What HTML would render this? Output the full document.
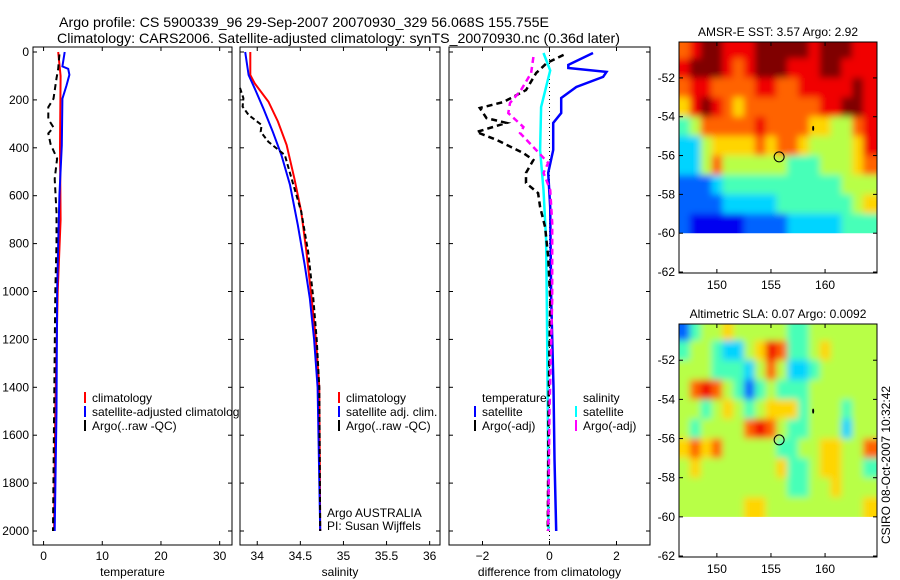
<!DOCTYPE html>
<html><head><meta charset="utf-8"><style>
html,body{margin:0;padding:0;background:#fff;}
svg{display:block;font-family:"Liberation Sans",Arial,sans-serif;}
</style></head><body>
<svg id="chart" width="900" height="580" viewBox="0 0 900 580" xmlns="http://www.w3.org/2000/svg">
<defs><filter id="smooth" x="-5%" y="-5%" width="110%" height="110%"><feGaussianBlur stdDeviation="3.5"/></filter></defs>
<text x="59" y="27" font-size="14" textLength="490" lengthAdjust="spacingAndGlyphs">Argo profile: CS 5900339_96 29-Sep-2007 20070930_329 56.068S 155.755E</text>
<text x="57" y="43" font-size="14" textLength="563" lengthAdjust="spacingAndGlyphs">Climatology: CARS2006. Satellite-adjusted climatology: synTS_20070930.nc (0.36d later)</text>
<g id="plots"></g>
</svg>
<script>
// ---- Panel 1: temperature ----
const climTDepth=[0,100,400,700,1000,1500,2000];
const climTVal=[2.5,2.9,2.8,2.9,2.4,2.0,1.8];
const satTDepth=[0,60,70,95,140,195,390,600,800,1000,1500,2000];
const satTVal=[3.6,3.2,4.2,4.4,3.9,3.2,3.1,2.7,2.5,2.3,2.2,1.9];
const argoTDepth=[10,70,110,195,230,280,315,340,385,445,530,670,800,1000,1500,2000];
const argoTVal=[2.7,2.5,2.2,1.7,0.8,0.8,1.7,0.8,1.2,2.3,1.9,2.2,2.2,2.0,1.8,1.6];
// ---- Panel 2: salinity ----
const climSDepth=[0,96,131,207,290,388,527,666,833,1028,1200,1400,2000];
const climSVal=[33.92,33.92,33.97,34.13,34.24,34.34,34.43,34.51,34.57,34.63,34.68,34.72,34.73];
const satSDepth=[0,96,152,235,333,430,555,722,889,1028,1200,1400,2000];
const satSVal=[33.86,33.9,33.97,34.07,34.18,34.28,34.38,34.47,34.55,34.61,34.66,34.7,34.73];
const argoSDepth=[150,193,228,263,305,333,375,430,555,666,833,1028,1200,1400,2000];
const argoSVal=[33.8,33.84,33.83,33.9,34.05,34.04,34.13,34.32,34.42,34.51,34.59,34.65,34.69,34.72,34.73];
// ---- Panel 3: differences ----
const dTsatDepth=[4,54,67,83,104,146,192,255,296,409,505,647,1035,1400,1700,2000];
const dTsatVal=[1.3,0.56,0.56,1.7,1.6,0.8,0.35,0.35,0.11,0.11,-0.04,0.02,0.05,0.12,0.15,0.2];
const dSsatDepth=[4,77,230,409,576,785,1035,1500,2000];
const dSsatVal=[-0.18,0.02,-0.25,-0.28,-0.18,-0.1,-0.08,-0.05,-0.03];
const dTargoDepth=[12,46,88,159,209,234,276,296,334,367,422,451,505,547,589,647,731,856,1035,1500,2000];
const dTargoVal=[0.42,-0.08,-0.4,-0.7,-1.38,-2.08,-1.88,-1.28,-2.18,-1.58,-0.78,-0.48,-0.7,-0.7,-0.34,-0.28,-0.13,-0.04,0.02,-0.03,-0.05];
const dSargoDepth=[21,88,159,213,255,313,338,397,463,505,576,714,1035,1500,2000];
const dSargoVal=[-0.48,-0.55,-0.85,-1.18,-1.23,-0.78,-0.88,-0.48,-0.04,-0.18,0.02,0.08,0.08,0.0,-0.04];
// ---- Maps (rows lat -50..-60, cols lon 147..164, colour index 0..9) ----
const sstGrid=[
[7,8,9,9,8,8,8,9,9,9,9,9,8,9,9,9,8,8],
[8,9,9,9,8,7,8,9,9,9,8,8,8,9,9,8,8,8],
[7,8,8,7,7,7,7,8,8,7,7,8,8,8,8,8,9,8],
[6,8,9,8,7,6,7,7,7,7,7,7,7,8,8,9,9,8],
[4,5,7,7,7,7,7,8,7,7,7,7,6,6,5,5,7,8],
[3,3,5,6,6,6,6,7,6,7,7,6,5,5,5,5,6,8],
[3,3,5,7,5,5,5,5,5,5,4,4,4,5,5,5,6,7],
[2,2,2,3,4,4,4,4,4,4,4,4,4,4,4,5,5,5],
[2,2,2,2,3,3,3,3,3,4,4,4,4,4,4,4,5,6],
[2,1,1,1,1,1,2,2,2,2,3,3,3,3,3,4,4,4]];
const slaGrid=[
[2,4,5,5,6,5,5,5,5,5,4,4,5,5,5,5,5,5],
[4,5,5,4,3,3,5,6,8,7,4,4,5,6,5,5,5,5],
[5,5,5,4,4,4,3,5,7,5,3,3,4,5,5,5,5,5],
[5,7,8,7,5,4,2,4,5,4,4,4,5,5,5,5,5,5],
[5,5,4,5,6,5,4,5,6,6,6,4,5,5,5,4,5,5],
[5,4,5,5,5,5,7,8,7,5,4,4,5,5,5,3,5,5],
[6,7,6,7,5,5,5,5,5,4,4,5,5,6,6,5,5,7],
[5,6,5,5,5,5,5,5,5,6,4,4,5,6,6,5,5,4],
[5,5,5,5,5,5,5,5,5,5,4,4,5,5,6,5,5,5],
[5,5,5,5,5,5,6,6,5,5,5,5,5,5,5,5,5,6]];
const depthTicks=[0,200,400,600,800,1000,1200,1400,1600,1800,2000];
const tTicks=[0,10,20,30];
const sTicks=[34,34.5,35,35.5,36];
const dTicks=[-2,0,2];
const latTicks=[-52,-54,-56,-58,-60,-62];
const lonTicks=[150,155,160];
const floatLon=155.755, floatLat=-56.068;

const NS="http://www.w3.org/2000/svg";
const root=document.getElementById('plots');
function mk(tag,attrs,parent){const e=document.createElementNS(NS,tag);for(const k in attrs)e.setAttribute(k,attrs[k]);(parent||root).appendChild(e);return e;}
const yD=d=>52+d*0.2395;
const TOP=47,BOT=545;

function panel(name,x0,x1,dom,ticks,xlabel,showY){
  const g=mk('g',{});
  
  
  const r=mk('rect',{x:x0,y:TOP,width:x1-x0,height:BOT-TOP,fill:'#fff',stroke:'#000','stroke-width':1},g);
  
  
  const sx=v=>x0+(v-dom[0])/(dom[1]-dom[0])*(x1-x0);
  ticks.forEach(t=>{
    const X=sx(t);
    mk('line',{x1:X,y1:BOT,x2:X,y2:BOT-4,stroke:'#000'},g);
    mk('line',{x1:X,y1:TOP,x2:X,y2:TOP+4,stroke:'#000'},g);
    const tl=mk('text',{x:X,y:560,'font-size':12,'text-anchor':'middle'},g);
    
    
    tl.textContent=String(t).replace('-','\u2212');
  });
  depthTicks.forEach(d=>{
    const Y=yD(d);
    mk('line',{x1:x0,y1:Y,x2:x0+4,y2:Y,stroke:'#000'},g);
    mk('line',{x1:x1,y1:Y,x2:x1-4,y2:Y,stroke:'#000'},g);
    if(showY){const t=mk('text',{x:x0-4,y:Y+4,'font-size':12,'text-anchor':'end'},g);
      
      
      t.textContent=d;}
  });
  const xl=mk('text',{x:(x0+x1)/2,y:576,'font-size':12,'text-anchor':'middle'},g);
  
  
  xl.textContent=xlabel;
  return {g,sx};
}
function series(p,depths,vals,color,dash,w,name){
  const pts=depths.map((d,i)=>p.sx(vals[i]).toFixed(1)+','+yD(d).toFixed(1)).join(' ');
  const l=mk('polyline',{points:pts,fill:'none',stroke:color,'stroke-width':w,'stroke-dasharray':dash||'none'},p.g);
  
  
}
function legend(g,x,y,color,text,name){
  const b=mk('line',{x1:x,y1:y-6,x2:x,y2:y+5,stroke:color,'stroke-width':2},g);
  
  
  const t=mk('text',{x:x+7,y:y+4,'font-size':12},g);
  
  
  t.textContent=text;
}

const p1=panel('temperature-panel',33,232,[-1.8,32.1],tTicks,'temperature',true);
series(p1,climTDepth,climTVal,'#ff0000',null,2,'climatology-temp-line');
series(p1,satTDepth,satTVal,'#0000ff',null,2,'satellite-temp-line');
series(p1,argoTDepth,argoTVal,'#000',"6,4",2,'argo-temp-line');
legend(p1.g,85,398,'#ff0000','climatology','legend-climatology');
legend(p1.g,85,412,'#0000ff','satellite-adjusted climatology','legend-satellite');
legend(p1.g,85,426,'#000','Argo(..raw -QC)','legend-argo');

const p2=panel('salinity-panel',240,440,[33.8,36.12],sTicks,'salinity',false);
series(p2,climSDepth,climSVal,'#ff0000',null,2,'climatology-sal-line');
series(p2,satSDepth,satSVal,'#0000ff',null,2,'satellite-sal-line');
series(p2,argoSDepth,argoSVal,'#000',"5,3",2,'argo-sal-line');
legend(p2.g,339,398,'#ff0000','climatology','legend-climatology-sal');
legend(p2.g,339,412,'#0000ff','satellite adj. clim.','legend-satellite-sal');
legend(p2.g,339,426,'#000','Argo(..raw -QC)','legend-argo-sal');
[['Argo AUSTRALIA',517,'argo-credit'],['PI: Susan Wijffels',530,'pi-credit']].forEach(a=>{
  const t=mk('text',{x:327,y:a[1],'font-size':12},p2.g);
  
  
  t.textContent=a[0];});

const p3=panel('difference-panel',449,650,[-3,3],dTicks,'difference from climatology',false);
mk('line',{x1:p3.sx(0),y1:TOP,x2:p3.sx(0),y2:BOT,stroke:'#000','stroke-dasharray':'1,3'},p3.g);
series(p3,dTsatDepth,dTsatVal,'#0000ff',null,2.5,'temp-satellite-diff-line');
series(p3,dSsatDepth,dSsatVal,'#00ffff',null,2.5,'sal-satellite-diff-line');
series(p3,dTargoDepth,dTargoVal,'#000',"6,4",2.5,'temp-argo-diff-line');
series(p3,dSargoDepth,dSargoVal,'#ff00ff',"6,4",2.5,'sal-argo-diff-line');
[['temperature',482,'legend-temperature-header'],['salinity',583,'legend-salinity-header']].forEach(a=>{
  const t=mk('text',{x:a[1],y:402,'font-size':12},p3.g);
  
  
  t.textContent=a[0];});
legend(p3.g,475,412,'#0000ff','satellite','legend-temp-satellite');
legend(p3.g,475,426,'#000','Argo(-adj)','legend-temp-argo');
legend(p3.g,576,412,'#00ffff','satellite','legend-sal-satellite');
legend(p3.g,576,426,'#ff00ff','Argo(-adj)','legend-sal-argo');

function jet(idx){
  const t=idx/9;
  const c=v=>Math.round(255*Math.max(0,Math.min(1,v)));
  return 'rgb('+c(1.5-Math.abs(4*t-3))+','+c(1.5-Math.abs(4*t-2))+','+c(1.5-Math.abs(4*t-1))+')';
}
function map(name,grid,top,bot,title){
  const x0=679,x1=877,lat0=-50.15,lat1=-62.05,lon0=146.5,lon1=164.8;
  const g=mk('g',{});
  
  
  const sx=l=>x0+(l-lon0)/(lon1-lon0)*(x1-x0);
  const sy=l=>top+(l-lat0)/(lat1-lat0)*(bot-top);
  const cid=name+'-clip';
  const cp=mk('clipPath',{id:cid},g);
  mk('rect',{x:x0,y:top,width:x1-x0,height:sy(-60)-top},cp);
  const outer=mk('g',{'clip-path':'url(#'+cid+')'},g);
  const cells=mk('g',{filter:'url(#smooth)'},outer);
  const nR=grid.length;
  grid.forEach((row,r)=>row.forEach((v,c)=>{
    const lonA=146.5+c, lonB=lonA+1;
    const latA=r===0?-48:-50-r, latB=r===nR-1?-62:-51-r;
    const X=sx(c===0?144:lonA), W=sx(c===17?168:lonB)-X;
    const Y=sy(latA), H=sy(latB)-Y;
    const cell=mk('rect',{x:X.toFixed(1),y:Y.toFixed(1),width:(W+0.6).toFixed(1),height:(H+0.6).toFixed(1),fill:jet(v)},cells);
    
    
  }));
  const fr=mk('rect',{x:x0,y:top,width:x1-x0,height:bot-top,fill:'none',stroke:'#000'},g);
  
  
  latTicks.forEach(l=>{
    const Y=sy(l);
    mk('line',{x1:x0,y1:Y,x2:x0+4,y2:Y,stroke:'#000'},g);
    mk('line',{x1:x1,y1:Y,x2:x1-4,y2:Y,stroke:'#000'},g);
    const t=mk('text',{x:x0-4,y:Y+4,'font-size':12,'text-anchor':'end'},g);
    
    
    t.textContent=String(l);
  });
  lonTicks.forEach(l=>{
    const X=sx(l);
    mk('line',{x1:X,y1:bot,x2:X,y2:bot-4,stroke:'#000'},g);
    mk('line',{x1:X,y1:top,x2:X,y2:top+4,stroke:'#000'},g);
    const t=mk('text',{x:X,y:bot+16,'font-size':12,'text-anchor':'middle'},g);
    
    
    t.textContent=String(l);
  });
  const c=mk('circle',{cx:sx(floatLon),cy:sy(floatLat),r:5,fill:'none',stroke:'#000'},g);
  
  
  mk('ellipse',{cx:sx(158.9),cy:sy(-54.6),rx:1,ry:2.5,fill:'#000'},g);
  const tt=mk('text',{x:(x0+x1)/2,y:top-6,'font-size':12,'text-anchor':'middle'},g);
  
  
  tt.textContent=title;
}
map('sst-map',sstGrid,42,273,'AMSR-E SST: 3.57 Argo: 2.92');
map('sla-map',slaGrid,324,557,'Altimetric SLA: 0.07 Argo: 0.0092');
const st=mk('text',{x:0,y:0,'font-size':12,'text-anchor':'middle',transform:'translate(890,465) rotate(-90)'});


st.textContent='CSIRO 08-Oct-2007 10:32:42';
</script>
</body></html>
